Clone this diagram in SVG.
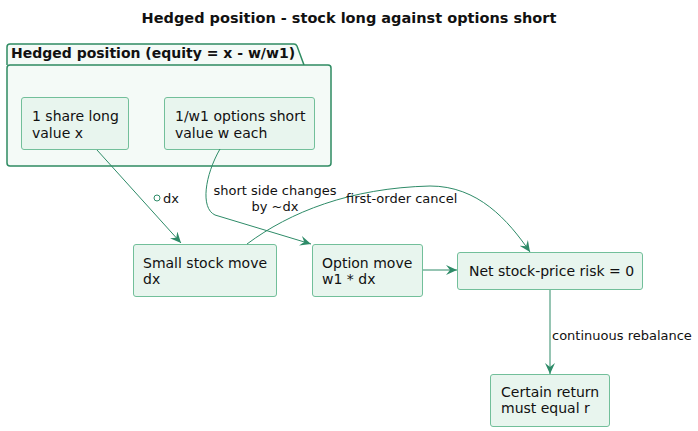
<svg xmlns="http://www.w3.org/2000/svg" width="698" height="431" viewBox="0 0 698 431">
<defs>
<style>
text{font-family:"DejaVu Sans",sans-serif;font-size:14px;fill:#111}
.b{font-weight:bold}
.t{font-size:14.5px}
.l{font-size:13px}
.node rect{fill:#e8f5ee;stroke:#72bf9a;stroke-width:1}
.e{fill:none;stroke:#2e8b68;stroke-width:1}
</style>
<marker id="ah" viewBox="0 0 12 10" refX="11" refY="5" markerWidth="12" markerHeight="10" markerUnits="userSpaceOnUse" orient="auto">
<path d="M0,0 L11,5 L0,10 L4,5 Z" fill="#2e8b68"/>
</marker>
</defs>
<rect width="698" height="431" fill="#fff"/>
<text class="b t" x="349" y="23" text-anchor="middle">Hedged position - stock long against options short</text>
<g id="pkg">
<path d="M7,65 L7,47 Q7,44 10,44 L294,44 Q296,44 297,46 L304,65" fill="#f4faf7" stroke="#2e8b62" stroke-width="1.5"/>
<rect x="7" y="65" width="324" height="101" rx="3" fill="#f4faf7" stroke="#2e8b62" stroke-width="1.5"/>
<text class="b" x="11" y="58">Hedged position (equity = x - w/w1)</text>
</g>
<g id="n1" class="node"><rect x="21.5" y="97.5" width="107" height="52" rx="2.5"/><text x="32" y="121">1 share long</text><text x="32" y="138">value x</text></g>
<g id="n2" class="node"><rect x="164.5" y="97.5" width="150" height="52" rx="2.5"/><text x="175" y="121">1/w1 options short</text><text x="175" y="138">value w each</text></g>
<g id="n3" class="node"><rect x="133.5" y="244.5" width="143" height="52" rx="2.5"/><text x="143" y="268">Small stock move</text><text x="143" y="284">dx</text></g>
<g id="n4" class="node"><rect x="312.5" y="244.5" width="110" height="52" rx="2.5"/><text x="322" y="268">Option move</text><text x="322" y="284">w1 * dx</text></g>
<g id="n5" class="node"><rect x="457.5" y="252.5" width="185" height="37" rx="2.5"/><text x="469" y="276">Net stock-price risk = 0</text></g>
<g id="n6" class="node"><rect x="490.5" y="374.5" width="119" height="52" rx="2.5"/><text x="501" y="397">Certain return</text><text x="501" y="413">must equal r</text></g>
<g id="edges">
<path class="e" d="M97,150 L181,243" marker-end="url(#ah)"/>
<circle cx="157" cy="198" r="3" fill="#fff" stroke="#2e8b68"/>
<text class="l" x="163" y="203">dx</text>
<path class="e" d="M220,149 C205,175 200,208 215,215 L311,244" marker-end="url(#ah)"/>
<text class="l" x="275" y="195" text-anchor="middle">short side changes</text>
<text class="l" x="275" y="211" text-anchor="middle">by ~dx</text>
<path class="e" d="M247,244 C290,212 350,188 430,186 C478,186 508,220 530,252" marker-end="url(#ah)"/>
<text class="l" x="346" y="203">first-order cancel</text>
<path class="e" d="M423,270 L457,270" marker-end="url(#ah)"/>
<path class="e" d="M550,290 L550,374" marker-end="url(#ah)"/>
<text class="l" x="552" y="340">continuous rebalance</text>
</g>
</svg>
